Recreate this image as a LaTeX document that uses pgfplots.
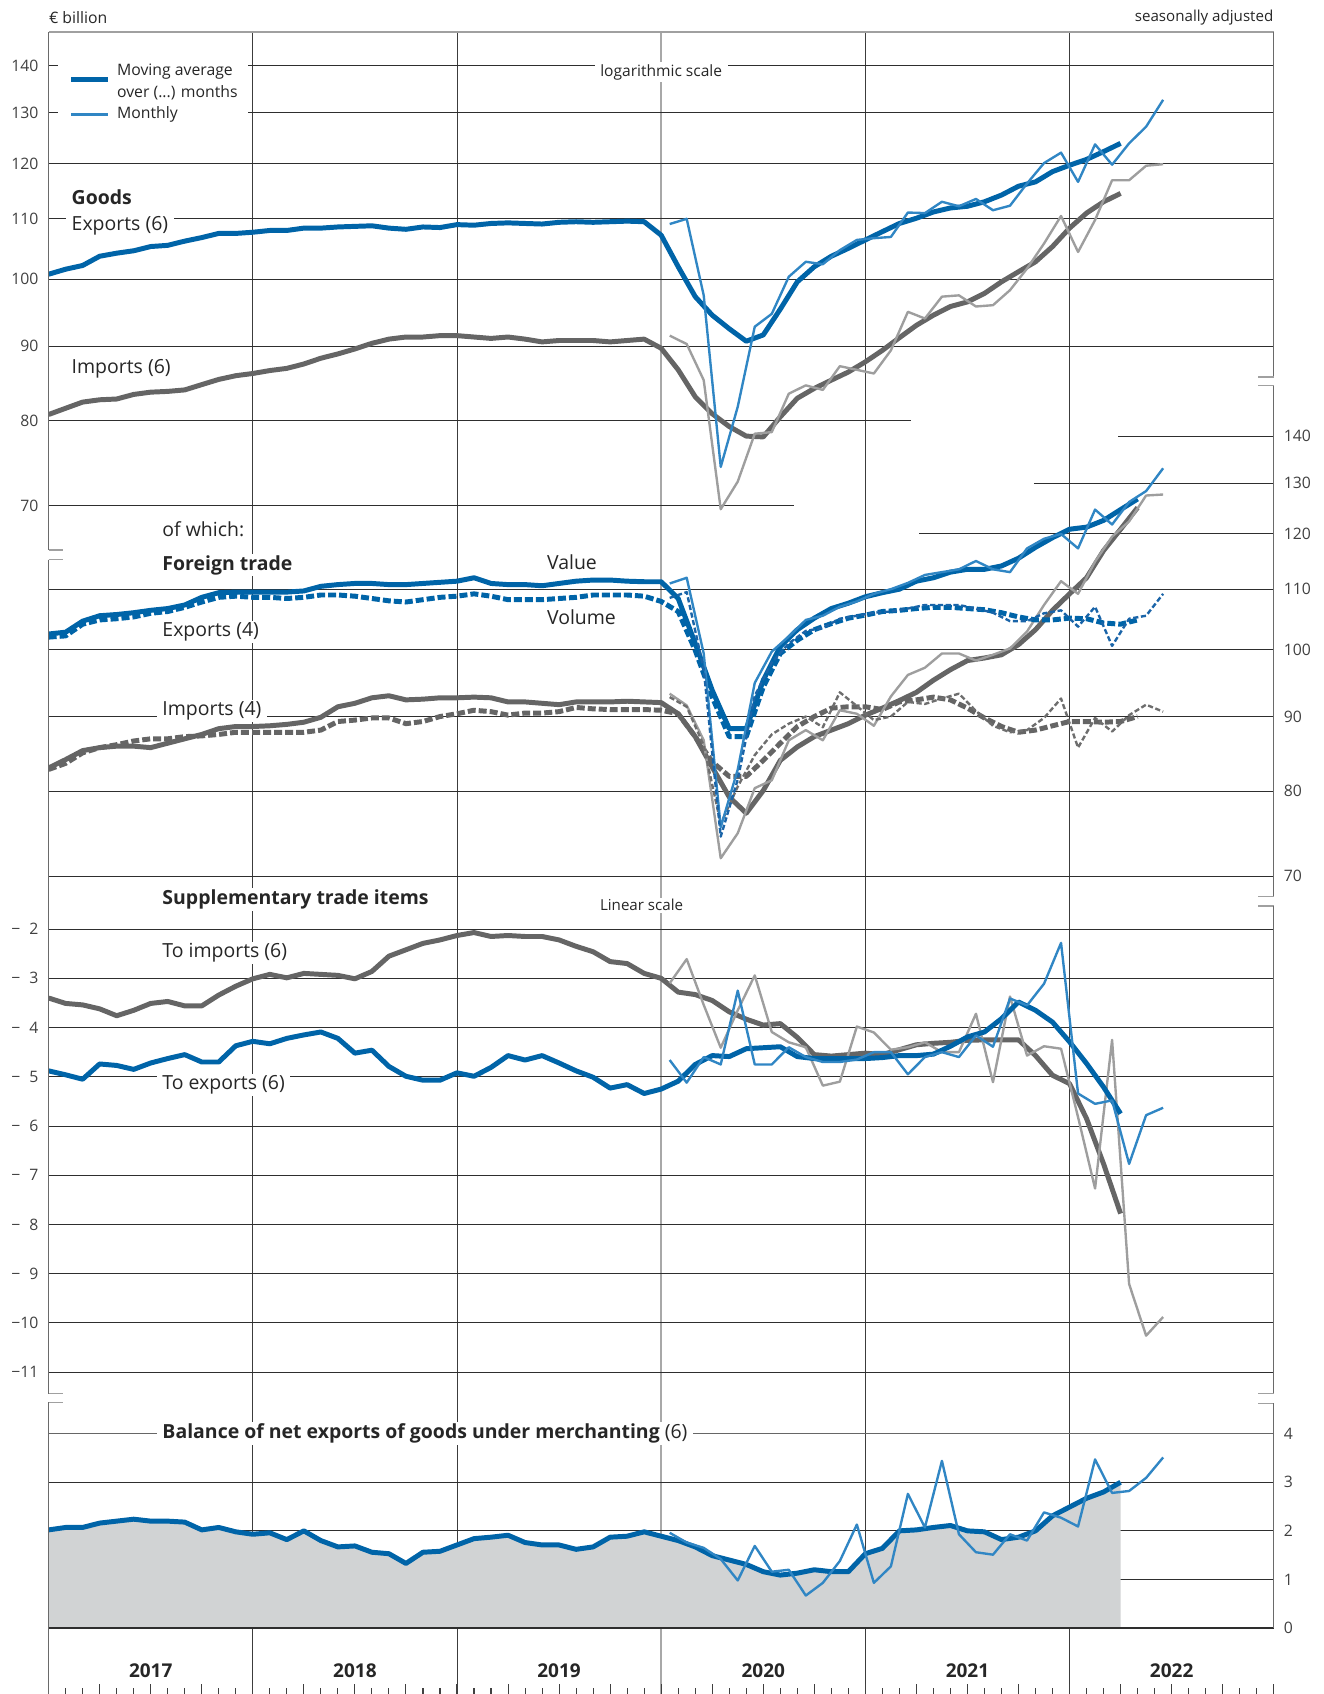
\documentclass[border=0pt]{standalone}
\usepackage{pgfplots}
\usepackage{pgfplotstable}
\pgfplotsset{compat=1.18}
\usepackage{fontspec}
\setmainfont{Open Sans}
\definecolor{mblue}{HTML}{0064A8}
\definecolor{lblue}{HTML}{3086C4}
\definecolor{dblue}{HTML}{1A64A8}
\definecolor{dgray}{HTML}{656565}
\definecolor{lgray}{HTML}{9E9E9E}
\definecolor{mgray}{HTML}{6E6E6E}
\definecolor{gridc}{HTML}{2E2E2E}
\definecolor{areac}{HTML}{D1D3D4}
\definecolor{txtc}{HTML}{262626}
\definecolor{tickc}{HTML}{404040}
\definecolor{axc}{HTML}{6A6A6A}
\definecolor{brkc}{HTML}{A0A0A0}
\definecolor{yrc}{HTML}{3C3C3C}
\definecolor{yrl}{HTML}{A8A8A8}
\newcommand\lab{\fontsize{9}{10.5}\selectfont}
\newcommand\tks{\fontsize{7.3}{8.5}\selectfont}

\tikzset{
 mavg/.style={line width=2.3pt, line join=round},
 mthl/.style={line width=1.1pt, line join=round},
 dthk/.style={dash pattern=on 3.7pt off 1.4pt},
 dthn/.style={dash pattern=on 2.4pt off 1.2pt},
 gl/.style={draw=gridc, line width=0.45pt},
 axl/.style={draw=axc, line width=0.6pt},
 brk/.style={draw=brkc, line width=0.6pt},
 lbl/.style={anchor=west, fill=white, inner xsep=2.5pt, inner ysep=0.8pt, font=\lab, text=txtc},
}
\pgfplotsset{
 base/.style={scale only axis, width=567pt, xmin=0, xmax=72, anchor=south west,
   hide x axis, y axis line style={draw=none}, major tick length=0pt, ytick style={draw=none},
   yticklabel style={font=\tks, text=tickc, inner sep=0pt}, clip=true},
 lax/.style={base, axis y line*=left, yticklabel style={anchor=east, xshift=-4.5pt}},
 rax/.style={base, axis y line*=right, yticklabel style={anchor=west, xshift=4.5pt}},
}

% Panel 1: goods, moving averages (6 months), centred at month boundaries
\pgfplotstableread{
x exp imp
0 100.8 80.8
1 101.6 81.6
2 102.2 82.4
3 103.7 82.7
4 104.2 82.8
5 104.6 83.4
6 105.3 83.7
7 105.5 83.8
8 106.2 84.0
9 106.8 84.7
10 107.5 85.4
11 107.5 85.9
12 107.7 86.2
13 108.0 86.6
14 108.0 86.9
15 108.4 87.5
16 108.4 88.3
17 108.6 88.9
18 108.7 89.6
19 108.8 90.4
20 108.4 91.0
21 108.2 91.3
22 108.6 91.3
23 108.5 91.5
24 109.0 91.5
25 108.9 91.3
26 109.2 91.1
27 109.3 91.3
28 109.2 91.0
29 109.1 90.6
30 109.4 90.8
31 109.5 90.8
32 109.4 90.8
33 109.5 90.6
34 109.6 90.8
35 109.5 91.0
36 107.2 89.7
37 102.0 86.7
38 97.3 83.1
39 94.5 80.9
40 92.5 79.3
41 90.7 78.1
42 91.6 78.0
43 95.4 80.5
44 99.6 82.9
45 102.0 84.2
46 103.7 85.3
47 105.0 86.4
48 106.4 87.8
49 107.8 89.4
50 109.2 91.2
51 110.1 93.0
52 111.2 94.5
53 111.9 95.8
54 112.2 96.5
55 113.0 97.8
56 114.2 99.6
57 115.8 101.2
58 116.6 102.8
59 118.5 105.3
60 119.7 108.4
61 120.8 111.0
62 122.3 113.0
63 123.9 114.5
}\pa
\pgfplotstableread{
x exp imp
36.5 109.1 91.5
37.5 110.0 90.3
38.5 97.5 85.3
39.5 74.4 69.6
40.5 81.8 72.7
41.5 92.8 78.4
42.5 94.7 78.6
43.5 100.4 83.5
44.5 102.8 84.6
45.5 102.4 84.0
46.5 104.7 87.2
47.5 106.4 86.7
48.5 106.7 86.2
49.5 106.9 89.4
50.5 111.1 95.0
51.5 111.0 94.0
52.5 113.0 97.3
53.5 112.2 97.5
54.5 113.5 95.8
55.5 111.5 96.0
56.5 112.3 98.3
57.5 116.3 101.7
58.5 120.1 105.8
59.5 122.1 110.5
60.5 116.6 104.4
61.5 123.7 109.8
62.5 119.8 116.9
63.5 123.9 116.9
64.5 127.2 119.6
65.5 132.7 119.9
}\pb
% Panel 2: foreign trade, moving averages (4 months)
\pgfplotstableread{
x ev eq iv iq
0 102.5 102.0 83.0 82.8
1 102.8 102.2 84.1 83.6
2 104.6 104.1 85.3 85.0
3 105.5 104.8 85.7 85.7
4 105.7 105.0 85.9 86.1
5 106.0 105.3 85.9 86.6
6 106.4 105.9 85.7 86.9
7 106.7 106.2 86.3 86.9
8 107.3 106.9 86.9 87.2
9 108.6 107.8 87.5 87.3
10 109.4 108.6 88.3 87.5
11 109.5 108.8 88.6 87.8
12 109.5 108.6 88.6 87.8
13 109.5 108.6 88.7 87.8
14 109.5 108.4 88.9 87.8
15 109.7 108.6 89.2 87.8
16 110.5 109.0 89.9 88.1
17 110.8 109.0 91.4 89.3
18 111.0 108.8 91.9 89.5
19 111.0 108.4 92.7 89.8
20 110.8 108.0 93.0 89.8
21 110.8 107.8 92.4 89.0
22 111.0 108.2 92.5 89.3
23 111.2 108.6 92.7 90.0
24 111.4 108.8 92.7 90.4
25 112.0 109.2 92.8 90.9
26 111.0 108.8 92.7 90.7
27 110.8 108.2 92.1 90.2
28 110.8 108.2 92.1 90.5
29 110.6 108.2 91.9 90.5
30 111.0 108.4 91.7 90.7
31 111.4 108.6 92.1 91.3
32 111.6 109.0 92.1 91.1
33 111.6 109.0 92.1 91.0
34 111.4 109.0 92.2 91.0
35 111.3 108.8 92.1 91.0
36 111.3 107.9 92.0 90.9
37 108.4 106.2 90.4 90.4
38 101.0 99.9 87.2 87.2
39 93.8 92.8 83.1 83.8
40 88.3 87.2 79.3 81.9
41 88.3 87.2 77.3 81.9
42 95.3 94.3 80.1 84.0
43 100.5 99.4 84.0 86.3
44 103.2 101.5 85.8 88.6
45 105.1 103.2 87.2 90.0
46 106.7 104.2 88.1 91.2
47 107.6 105.1 89.0 91.4
48 108.7 105.6 90.2 91.4
49 109.4 106.2 91.2 91.0
50 110.0 106.4 92.3 92.1
51 111.4 106.7 93.5 92.4
52 112.0 106.9 95.3 92.8
53 113.0 106.9 96.9 92.4
54 113.5 106.7 98.3 91.2
55 113.5 106.5 98.7 89.8
56 114.1 106.0 99.2 88.6
57 115.5 105.3 100.8 87.8
58 117.5 104.8 103.2 88.1
59 119.3 104.8 106.4 88.7
60 120.9 105.1 109.2 89.3
61 121.3 105.0 112.0 89.3
62 122.6 104.3 116.9 89.2
63 124.7 104.1 120.9 89.3
64 126.8 104.8 125.1 90.0
}\pc
\pgfplotstableread{
x ev eq iv iq
36.5 111.0 108.5 93.3 92.8
37.5 112.0 109.5 91.6 91.4
38.5 99.4 97.0 86.7 86.0
39.5 75.6 74.5 72.0 76.0
40.5 82.8 81.5 74.9 80.6
41.5 94.9 93.0 80.4 84.7
42.5 99.7 98.0 81.4 87.5
43.5 102.1 101.0 86.7 89.0
44.5 104.8 103.0 88.1 90.0
45.5 105.5 103.5 86.7 88.5
46.5 107.0 105.0 90.9 93.5
47.5 107.9 105.5 90.4 91.5
48.5 109.2 106.0 88.7 89.5
49.5 110.0 106.2 92.9 90.0
50.5 111.1 106.7 96.1 92.1
51.5 112.5 107.3 97.2 91.8
52.5 113.0 107.3 99.4 92.6
53.5 113.5 107.3 99.4 93.3
54.5 115.0 106.7 98.3 90.8
55.5 113.5 106.0 99.2 88.7
56.5 113.0 104.6 100.2 87.8
57.5 117.3 104.6 102.9 88.1
58.5 119.1 105.9 107.3 89.8
59.5 120.0 106.4 111.4 92.6
60.5 117.3 103.7 109.2 85.7
61.5 124.7 107.0 114.9 89.8
62.5 121.8 100.6 119.5 87.9
63.5 126.2 105.0 122.4 90.2
64.5 128.4 105.5 127.5 91.7
65.5 133.1 109.2 127.7 90.7
}\pd
% Panel 3: supplementary trade items
\pgfplotstableread{
x imp exp
0 -3.40 -4.88
1 -3.51 -4.96
2 -3.54 -5.05
3 -3.62 -4.74
4 -3.76 -4.77
5 -3.65 -4.85
6 -3.51 -4.72
7 -3.47 -4.63
8 -3.56 -4.55
9 -3.56 -4.70
10 -3.34 -4.70
11 -3.16 -4.37
12 -3.01 -4.28
13 -2.92 -4.33
14 -2.99 -4.22
15 -2.90 -4.15
16 -2.92 -4.09
17 -2.94 -4.22
18 -3.01 -4.52
19 -2.86 -4.46
20 -2.55 -4.79
21 -2.42 -4.99
22 -2.29 -5.07
23 -2.22 -5.07
24 -2.13 -4.92
25 -2.07 -4.99
26 -2.15 -4.81
27 -2.13 -4.57
28 -2.15 -4.66
29 -2.15 -4.57
30 -2.22 -4.72
31 -2.35 -4.88
32 -2.46 -5.01
33 -2.66 -5.23
34 -2.70 -5.16
35 -2.90 -5.34
36 -3.00 -5.25
37 -3.28 -5.09
38 -3.33 -4.75
39 -3.45 -4.57
40 -3.68 -4.59
41 -3.83 -4.43
42 -3.95 -4.41
43 -3.92 -4.39
44 -4.20 -4.59
45 -4.55 -4.63
46 -4.58 -4.63
47 -4.55 -4.63
48 -4.52 -4.63
49 -4.55 -4.61
50 -4.45 -4.57
51 -4.35 -4.57
52 -4.32 -4.54
53 -4.30 -4.38
54 -4.26 -4.19
55 -4.25 -4.09
56 -4.25 -3.82
57 -4.25 -3.48
58 -4.57 -3.65
59 -4.97 -3.89
60 -5.14 -4.29
61 -5.85 -4.73
62 -6.77 -5.21
63 -7.78 -5.75
}\pe
\pgfplotstableread{
x imp exp
36.5 -3.10 -4.66
37.5 -2.61 -5.12
38.5 -3.54 -4.60
39.5 -4.41 -4.75
40.5 -3.65 -3.25
41.5 -2.94 -4.75
42.5 -4.09 -4.75
43.5 -4.30 -4.40
44.5 -4.40 -4.60
45.5 -5.18 -4.70
46.5 -5.10 -4.70
47.5 -3.98 -4.65
48.5 -4.10 -4.50
49.5 -4.45 -4.50
50.5 -4.40 -4.95
51.5 -4.30 -4.60
52.5 -4.50 -4.50
53.5 -4.50 -4.60
54.5 -3.72 -4.16
55.5 -5.11 -4.39
56.5 -3.37 -3.41
57.5 -4.57 -3.55
58.5 -4.38 -3.11
59.5 -4.43 -2.28
60.5 -5.82 -5.34
61.5 -7.27 -5.55
62.5 -4.25 -5.48
63.5 -9.21 -6.77
64.5 -10.26 -5.78
65.5 -9.88 -5.63
}\pf
% Panel 4: merchanting balance
\pgfplotstableread{
x v
0 2.02
1 2.07
2 2.07
3 2.16
4 2.20
5 2.24
6 2.20
7 2.20
8 2.18
9 2.02
10 2.07
11 1.98
12 1.93
13 1.96
14 1.82
15 2.00
16 1.80
17 1.67
18 1.69
19 1.56
20 1.53
21 1.33
22 1.56
23 1.58
24 1.71
25 1.84
26 1.87
27 1.91
28 1.76
29 1.71
30 1.71
31 1.62
32 1.67
33 1.87
34 1.89
35 1.98
36 1.89
37 1.80
38 1.67
39 1.49
40 1.40
41 1.31
42 1.16
43 1.09
44 1.13
45 1.20
46 1.16
47 1.16
48 1.53
49 1.64
50 2.00
51 2.02
52 2.07
53 2.11
54 2.00
55 1.98
56 1.82
57 1.87
58 2.00
59 2.31
60 2.49
61 2.67
62 2.80
63 3.00
}\pg
\pgfplotstableread{
x v
36.5 1.96
37.5 1.76
38.5 1.65
39.5 1.42
40.5 0.98
41.5 1.69
42.5 1.16
43.5 1.20
44.5 0.67
45.5 0.93
46.5 1.38
47.5 2.13
48.5 0.93
49.5 1.27
50.5 2.76
51.5 2.07
52.5 3.44
53.5 1.93
54.5 1.56
55.5 1.51
56.5 1.93
57.5 1.80
58.5 2.38
59.5 2.27
60.5 2.09
61.5 3.47
62.5 2.78
63.5 2.82
64.5 3.09
65.5 3.51
}\ph

\begin{document}
\begin{tikzpicture}[x=1pt,y=1pt]
\useasboundingbox (0pt,0pt) rectangle (612.5pt,784pt);

% year lines
\foreach \xx in {117,211.5,400.5,495} {\draw[draw=yrc, line width=0.45pt] (\xx pt,0pt) -- (\xx pt,769pt);}
\draw[draw=yrl, line width=1pt] (306pt,0pt) -- (306pt,769pt);

% Panel 1: Goods (log)
\begin{axis}[lax, at={(22.5pt,530pt)}, height=239pt, ymode=log, ymin=65.39, ymax=147.6,
  ytick={70,80,90,100,110,120,130,140}, yticklabels={70,80,90,100,110,120,130,140}]
\foreach \v in {90,100,110,120,130,140} {\edef\tmp{\noexpand\draw[gl] (axis cs:0,\v) -- (axis cs:72,\v);}\tmp}
\draw[gl] (axis cs:0,80) -- (axis cs:50.67,80);
\draw[gl] (axis cs:0,70) -- (axis cs:43.8,70);
\addplot[dgray, mavg] table[x=x,y=imp]{\pa};
\addplot[lgray, mthl] table[x=x,y=imp]{\pb};
\addplot[mblue, mavg] table[x=x,y=exp]{\pa};
\addplot[lblue, mthl] table[x=x,y=exp]{\pb};
\end{axis}

% Panel 2: Foreign trade (log)
\begin{axis}[rax, at={(22.5pt,369pt)}, height=236.5pt, ymode=log, ymin=67.77, ymax=151.6,
  ytick={70,80,90,100,110,120,130,140}, yticklabels={70,80,90,100,110,120,130,140}]
\draw[gl] (axis cs:62.86,140) -- (axis cs:72,140);
\draw[gl] (axis cs:57.9,130) -- (axis cs:72,130);
\draw[gl] (axis cs:51.17,120) -- (axis cs:72,120);
\foreach \v in {70,80,90,100,110} {\edef\tmp{\noexpand\draw[gl] (axis cs:0,\v) -- (axis cs:72,\v);}\tmp}
\addplot[dgray, mavg] table[x=x,y=iv]{\pc};
\addplot[dgray, mavg, dthk] table[x=x,y=iq]{\pc};
\addplot[lgray, mthl] table[x=x,y=iv]{\pd};
\addplot[mgray, mthl, dthn] table[x=x,y=iq]{\pd};
\addplot[mblue, mavg] table[x=x,y=ev]{\pc};
\addplot[mblue, mavg, dthk] table[x=x,y=eq]{\pc};
\addplot[lblue, mthl] table[x=x,y=ev]{\pd};
\addplot[dblue, mthl, dthn] table[x=x,y=eq]{\pd};
\end{axis}

% Panel 3: Supplementary trade items (linear)
\begin{axis}[lax, at={(22.5pt,139pt)}, height=225.5pt, ymin=-11.438, ymax=-1.539,
  ytick={-11,-10,...,-2},
  yticklabels={−11,−10,−\hphantom{0}9,−\hphantom{0}8,−\hphantom{0}7,−\hphantom{0}6,−\hphantom{0}5,−\hphantom{0}4,−\hphantom{0}3,−\hphantom{0}2}]
\foreach \v in {-2,-3,...,-11} {\edef\tmp{\noexpand\draw[gl] (axis cs:0,\v) -- (axis cs:72,\v);}\tmp}
\addplot[dgray, mavg] table[x=x,y=imp]{\pe};
\addplot[lgray, mthl] table[x=x,y=imp]{\pf};
\addplot[mblue, mavg] table[x=x,y=exp]{\pe};
\addplot[lblue, mthl] table[x=x,y=exp]{\pf};
\end{axis}

% Panel 4: merchanting
\begin{axis}[rax, at={(22.5pt,30.5pt)}, height=104pt, ymin=0, ymax=4.622,
  ytick={0,1,2,3,4}, yticklabels={0,1,2,3,4}]
\draw[draw=gray!80!black, line width=0.45pt] (axis cs:0,4) -- (axis cs:72,4);
\foreach \v in {1,2,3} {\edef\tmp{\noexpand\draw[gl] (axis cs:0,\v) -- (axis cs:72,\v);}\tmp}
\addplot[fill=areac, draw=none] table[x=x,y=v]{\pg} \closedcycle;
\addplot[mblue, mavg] table[x=x,y=v]{\pg};
\addplot[lblue, mthl] table[x=x,y=v]{\ph};
\end{axis}

% bottom time axis
\begin{axis}[scale only axis, width=567pt, height=30.5pt, at={(22.5pt,0pt)}, anchor=south west,
  xmin=0, xmax=72, ymin=0, ymax=1, hide y axis, axis x line*=bottom, x axis line style={draw=none},
  xtick={0,3,...,72}, minor xtick={0,...,72}, xticklabels={}, tick align=inside,
  major tick length=4.75pt, minor tick length=3pt, tick style={draw=tickc, line width=0.5pt}]
\addplot[draw=none] coordinates {(0,0)};
\end{axis}
\draw[draw=gridc, line width=0.7pt] (22.5pt,30.5pt) -- (589.5pt,30.5pt);

% frame and axis lines with breaks
\draw[draw=brkc, line width=1pt] (22.5pt,769pt) -- (589.5pt,769pt);
\draw[axl] (22.5pt,769pt) -- (22.5pt,529.5pt);
\draw[brk] (22.5pt,529.5pt) -- (29.25pt,529.5pt);
\draw[brk] (22.5pt,525pt) -- (29.25pt,525pt);
\draw[axl] (22.5pt,525pt) -- (22.5pt,139pt);
\draw[brk] (22.5pt,139pt) -- (29.25pt,139pt);
\draw[brk] (22.5pt,135pt) -- (29.25pt,135pt);
\draw[axl] (22.5pt,135pt) -- (22.5pt,0pt);
\draw[axl] (589.5pt,769pt) -- (589.5pt,609.5pt);
\draw[brk] (589.5pt,609.5pt) -- (582.25pt,609.5pt);
\draw[brk] (589.5pt,605.5pt) -- (582.25pt,605.5pt);
\draw[axl] (589.5pt,605.5pt) -- (589.5pt,369pt);
\draw[brk] (589.5pt,369pt) -- (582.25pt,369pt);
\draw[brk] (589.5pt,364.75pt) -- (582.25pt,364.75pt);
\draw[axl] (589.5pt,364.75pt) -- (589.5pt,139pt);
\draw[brk] (589.5pt,139pt) -- (582.25pt,139pt);
\draw[brk] (589.5pt,134.5pt) -- (582.25pt,134.5pt);
\draw[axl] (589.5pt,134.5pt) -- (589.5pt,30.5pt);

% header
\node[anchor=west, inner sep=0pt, font=\tks, text=txtc] at (22.5pt,776pt) {€ billion};
\node[anchor=east, inner sep=0pt, font=\fontsize{7}{8}\selectfont, text=txtc] at (589.5pt,776pt) {seasonally adjusted};

% legend
\fill[white] (27pt,725pt) rectangle (115pt,759pt);
\draw[mblue, line width=2.3pt] (33pt,747pt) -- (50pt,747pt);
\draw[lblue, line width=1.1pt] (33pt,731pt) -- (50pt,731pt);
\node[anchor=west, inner sep=0pt, font=\tks, text=txtc] at (54pt,751pt) {Moving average};
\node[anchor=west, inner sep=0pt, font=\tks, text=txtc] at (54pt,741pt) {over (...) months};
\node[anchor=west, inner sep=0pt, font=\tks, text=txtc] at (54pt,731pt) {Monthly};

% labels
\node[anchor=center, fill=white, inner xsep=2.5pt, inner ysep=1pt, font=\fontsize{7.2}{8}\selectfont, text=txtc] at (306pt,750.5pt) {logarithmic scale};
\node[lbl, font=\lab\bfseries] at (30.5pt,692.5pt) {Goods};
\node[lbl] at (30.5pt,679.5pt) {Exports (6)};
\node[lbl] at (30.5pt,613.5pt) {Imports (6)};
\node[lbl] at (72.5pt,539pt) {of which:};
\node[lbl, font=\lab\bfseries] at (72.5pt,522.5pt) {Foreign trade};
\node[lbl] at (72.5pt,491.5pt) {Exports (4)};
\node[lbl] at (250.5pt,524pt) {Value};
\node[lbl] at (250.5pt,498.5pt) {Volume};
\node[lbl] at (72.5pt,455pt) {Imports (4)};
\node[lbl, font=\lab\bfseries] at (72.5pt,367.5pt) {Supplementary trade items};
\node[lbl, font=\fontsize{7}{8}\selectfont] at (275pt,365pt) {Linear scale};
\node[lbl] at (72.5pt,343pt) {To imports (6)};
\node[lbl] at (72.5pt,282pt) {To exports (6)};
\node[lbl] at (72.5pt,120.5pt) {{\bfseries Balance of net exports of goods under merchanting} (6)};

% years
\foreach \yy [count=\i from 0] in {2017,2018,2019,2020,2021,2022} {
  \pgfmathsetmacro\xc{22.5+7.875*(6+12*\i)}
  \node[font=\fontsize{8.8}{10}\selectfont\bfseries, text=txtc, inner sep=0pt] at (\xc pt,11pt) {\yy};
}
\end{tikzpicture}
\end{document}
